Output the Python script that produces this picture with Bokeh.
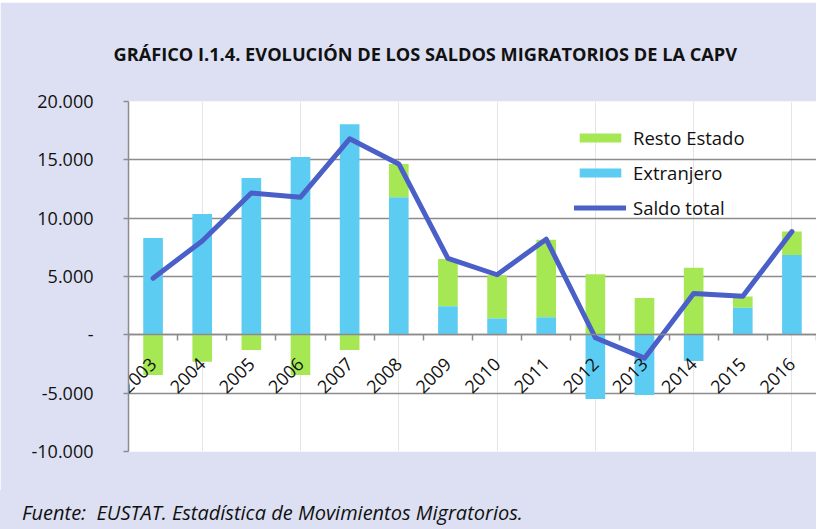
import numpy as np
from bokeh.plotting import figure
from bokeh.models import (FixedTicker, LinearAxis, Range1d, Legend, Grid,
                          LegendItem, ColumnDataSource, Title, Spacer, Div)
from bokeh.layouts import column
from bokeh.embed import file_html
from bokeh.resources import INLINE

# ---- data ----
years = ["2003", "2004", "2005", "2006", "2007", "2008", "2009",
         "2010", "2011", "2012", "2013", "2014", "2015", "2016"]
extranjero = [8300, 10350, 13450, 15250, 18050, 11800, 2450,
              1400, 1500, -5500, -5150, -2250, 2320, 6850]
resto_estado = [-3450, -2300, -1300, -3450, -1300, 2850, 4050,
                3700, 6650, 5200, 3150, 5750, 970, 2000]
saldo_total = [4850, 8050, 12150, 11800, 16800, 14650, 6550,
               5150, 8200, -250, -2000, 3550, 3300, 8850]
y_ticks = [-10000, -5000, 0, 5000, 10000, 15000, 20000]
y_tick_labels = ["-10.000", "-5.000", "-", "5.000", "10.000", "15.000", "20.000"]

title_text = "GRÁFICO I.1.4. EVOLUCIÓN DE LOS SALDOS MIGRATORIOS DE LA CAPV"
source_text = "Fuente:  EUSTAT. Estadística de Movimientos Migratorios."

# ---- styling ----
BG = "#DCE0F2"
BLUE = "#5DCCF2"
GREEN = "#A6E854"
LINE = "#4A5FC8"
GRID = "#8C8C8C"
FONT = "Open Sans"
TXT = "#111111"

xs = np.arange(1, len(years) + 1)
ext = np.array(extranjero, dtype=float)
rest = np.array(resto_estado, dtype=float)
rest_bottom = np.where(np.sign(rest) == np.sign(ext), ext, 0.0)
rest_top = rest_bottom + rest

src = ColumnDataSource(dict(x=xs, ext_top=ext, ext_bottom=np.zeros_like(ext),
                            rest_bottom=rest_bottom, rest_top=rest_top,
                            total=saldo_total))

p = figure(width=816, height=488, output_backend="svg", toolbar_location=None,
           x_range=Range1d(0.5, len(years) + 0.5),
           y_range=Range1d(min(y_ticks), max(y_ticks)),
           x_axis_location=None, y_axis_location=None,
           min_border_left=128, min_border_right=0,
           min_border_top=99, min_border_bottom=39,
           background_fill_color="white", border_fill_color=BG,
           outline_line_color=None)

p.add_layout(Title(text=title_text, align="left", offset=-15, standoff=72,
                   text_font=FONT, text_font_style="bold", text_font_size="18.2px",
                   text_color=TXT), "above")

# y axis
yaxis = LinearAxis(ticker=FixedTicker(ticks=y_ticks))
yaxis.major_label_overrides = {t: l for t, l in zip(y_ticks, y_tick_labels)}
yaxis.axis_line_color = GRID
yaxis.axis_line_width = 1.5
yaxis.major_tick_line_color = GRID
yaxis.major_tick_line_width = 1.5
yaxis.major_tick_out = 5
yaxis.major_tick_in = 0
yaxis.minor_tick_line_color = None
yaxis.major_label_standoff = 30
yaxis.major_label_text_font = FONT
yaxis.major_label_text_font_size = "18px"
yaxis.major_label_text_color = TXT
p.add_layout(yaxis, "left")

# grid
grid = Grid(dimension=1, ticker=FixedTicker(ticks=y_ticks),
            grid_line_color=GRID, grid_line_width=1.5)
p.add_layout(grid)

# bars
r_green = p.vbar(x="x", bottom="rest_bottom", top="rest_top", width=0.4,
                 source=src, fill_color=GREEN, line_color=None)
r_blue = p.vbar(x="x", bottom="ext_bottom", top="ext_top", width=0.4,
                source=src, fill_color=BLUE, line_color=None)

# x axis at zero
xaxis = LinearAxis(fixed_location=0,
                   ticker=FixedTicker(ticks=list(xs),
                                      minor_ticks=list(np.arange(0.5, len(years) + 1, 1.0))))
xaxis.major_label_overrides = {int(x): y for x, y in zip(xs, years)}
xaxis.axis_line_color = GRID
xaxis.axis_line_width = 1.5
xaxis.major_tick_line_color = None
xaxis.minor_tick_line_color = GRID
xaxis.minor_tick_line_width = 1.5
xaxis.minor_tick_out = 6
xaxis.minor_tick_in = 0
xaxis.major_label_orientation = np.pi / 4
xaxis.major_label_standoff = 20
xaxis.major_label_text_font = FONT
xaxis.major_label_text_font_size = "18px"
xaxis.major_label_text_color = TXT
p.add_layout(xaxis, "below")

# line
r_line = p.line(x="x", y="total", source=src, line_width=5, line_color=LINE,
                line_join="round", line_cap="round")

legend = Legend(items=[LegendItem(label="Resto Estado", renderers=[r_green]),
                       LegendItem(label="Extranjero", renderers=[r_blue]),
                       LegendItem(label="Saldo total", renderers=[r_line])],
                location=(446, 231), orientation="vertical",
                glyph_width=52, glyph_height=11, label_standoff=7,
                spacing=10, padding=0, margin=0,
                border_line_color=None, background_fill_alpha=0,
                label_text_font=FONT, label_text_font_size="18.5px",
                label_text_color=TXT)
p.add_layout(legend)

note = Div(text=source_text, width=816, height=39,
           styles={"background-color": BG, "font-family": FONT,
                   "font-style": "italic", "font-size": "20px", "color": TXT,
                   "padding-left": "22px", "padding-top": "10px",
                   "line-height": "26px", "box-sizing": "border-box",
                   "white-space": "pre", "margin": "0"})

layout = column(Spacer(width=816, height=2), p, note, spacing=0)
open("out.html", "w").write(file_html(layout, INLINE))
